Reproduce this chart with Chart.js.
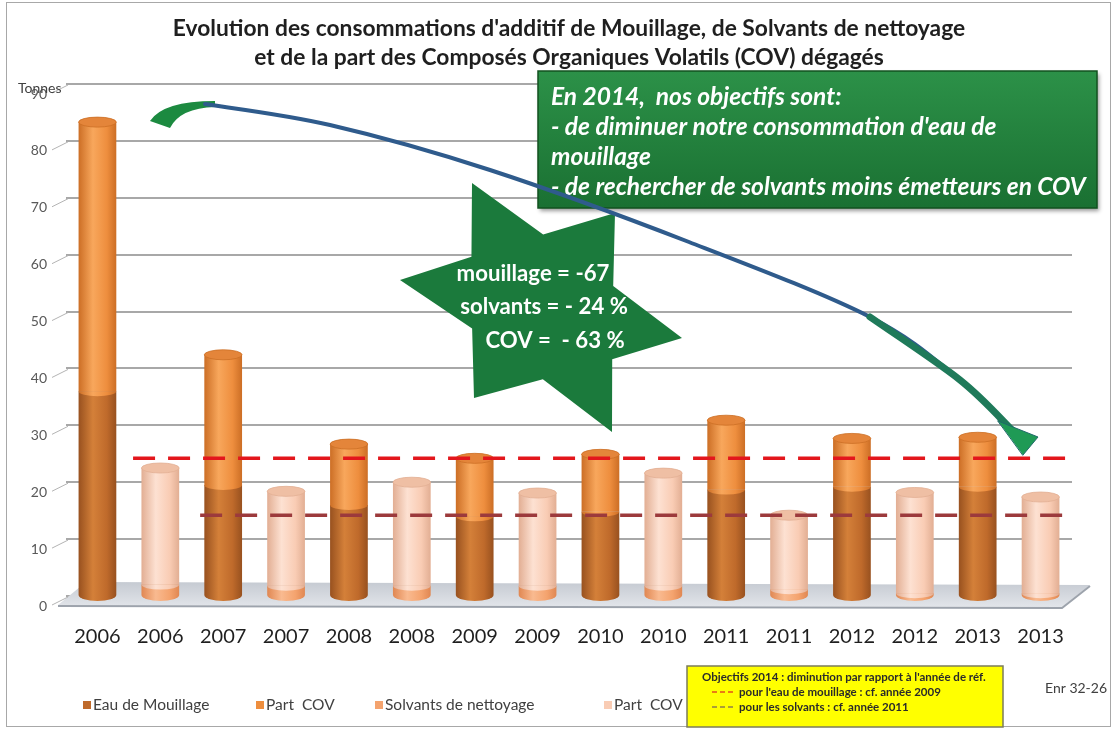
<!DOCTYPE html>
<html lang="fr">
<head>
<meta charset="utf-8">
<title>Evolution des consommations d'additif de Mouillage</title>
<script src="https://cdn.jsdelivr.net/npm/chart.js@4.4.1/dist/chart.umd.min.js"></script>
<style>
  html, body { margin: 0; padding: 0; background: #fff; }
  #wrap { position: relative; width: 1114px; height: 729px; }
</style>
</head>
<body>
<div id="wrap"><canvas id="chart"></canvas></div>
<script>
// Données (tonnes)
const annees = ['2006', '2006', '2007', '2007', '2008', '2008', '2009', '2009',
                '2010', '2010', '2011', '2011', '2012', '2012', '2013', '2013'];
const eauMouillage = [36, null, 19.5, null, 16, null, 14, null, 14.8, null, 18.7, null, 19.2, null, 19.2, null];
const covMouillage = [47.3, null, 22.9, null, 10.7, null, 10.2, null, 10.1, null, 12.2, null, 8.5, null, 8.7, null];
const solvants = [null, 2, null, 1.8, null, 1.8, null, 1.8, null, 1.8, null, 1.2, null, 0.5, null, 0.5];
const covSolvants = [null, 20.5, null, 16.6, null, 18.2, null, 16.3, null, 19.8, null, 13, null, 17.7, null, 16.9];
// lignes d'objectif : niveau 2009 (mouillage) et 2011 (solvants)
const objectifMouillage = [null, 24.2, 24.2, 24.2, 24.2, 24.2, 24.2, 24.2, 24.2, 24.2, 24.2, 24.2, 24.2, 24.2, 24.2, 24.2];
const objectifSolvants = [null, null, 14.2, 14.2, 14.2, 14.2, 14.2, 14.2, 14.2, 14.2, 14.2, 14.2, 14.2, 14.2, 14.2, 14.2];
const yMax = 90;
const yStep = 10;

const titre = ["Evolution des consommations d'additif de Mouillage, de Solvants de nettoyage",
               'et de la part des Composés Organiques Volatils (COV) dégagés'];
const objectifs = ['En 2014,  nos objectifs sont:',
                   "- de diminuer notre consommation d'eau de",
                   'mouillage',
                   '- de rechercher de solvants moins émetteurs en COV'];
const bilan = ['mouillage = -67', 'solvants = - 24 %', 'COV =  - 63 %'];
const encadre = ["Objectifs 2014 : diminution par rapport à l'année de réf.",
                 "pour l'eau de mouillage : cf. année 2009",
                 'pour les solvants : cf. année 2011'];

const FONT = 'Lato';
const BAR_PCT = 0.6;

const teintes = {
    eau:  { base: '#bf6a2b', edge: '#98511f', light: '#d48039', cap: '#c46e2d' },
    covM: { base: '#ee8e3e', edge: '#cc6e25', light: '#f8a75c', cap: '#e4853a' },
    solv: { base: '#f4a36e', edge: '#e08752', light: '#f9ba90', cap: '#f09a62' },
    covS: { base: '#f9ccb4', edge: '#e2ae93', light: '#fde1d2', cap: '#efbfa4' }
};

// taille de police pour qu'un texte tienne dans une largeur donnée
const mctx = document.createElement('canvas').getContext('2d');
function fitSize(text, width, style) {
    mctx.font = style + ' 100px ' + FONT;
    return Math.round(1000 * width / mctx.measureText(text).width) / 10;
}
const titleSize = fitSize(titre[0], 794, 'bold');
const boxSize = fitSize(objectifs[3], 534, 'italic bold');
const starSize = fitSize(bilan[1], 168, 'bold');
const legendSize = fitSize('Solvants de nettoyage', 149, 'normal');
const yellowSize = fitSize(encadre[0], 283, 'bold');

function cylGrad(c2d, cx, half, t) {
    const g = c2d.createLinearGradient(cx - half, 0, cx + half, 0);
    g.addColorStop(0, t.edge);
    g.addColorStop(0.38, t.light);
    g.addColorStop(0.75, t.base);
    g.addColorStop(1, t.edge);
    return g;
}

function cylindre(t) {
    return function (ctx) {
        const chart = ctx.chart;
        if (!chart.chartArea) return t.base;
        const x = chart.scales.x;
        const half = x.width / annees.length * BAR_PCT / 2;
        return cylGrad(chart.ctx, x.getPixelForValue(ctx.dataIndex), half, t);
    };
}

function smoothPath(c2d, pts) {
    c2d.moveTo(pts[0][0], pts[0][1]);
    for (let i = 0; i < pts.length - 1; i++) {
        const p0 = pts[i - 1] || pts[i], p1 = pts[i], p2 = pts[i + 1], p3 = pts[i + 2] || p2;
        c2d.bezierCurveTo(p1[0] + (p2[0] - p0[0]) / 6, p1[1] + (p2[1] - p0[1]) / 6,
                          p2[0] - (p3[0] - p1[0]) / 6, p2[1] - (p3[1] - p1[1]) / 6, p2[0], p2[1]);
    }
}

// habillage : cadre, sol 3D, sommets des cylindres, encadrés, étoile, flèche
const habillage = {
    id: 'habillage',
    beforeDraw(chart) {
        const c = chart.ctx;
        c.save();
        c.fillStyle = '#fff';
        c.fillRect(0, 0, chart.width, chart.height);
        c.strokeStyle = '#a8a8a8';
        c.lineWidth = 1;
        c.strokeRect(6.5, 2.5, 1104, 724);
        c.restore();
    },
    beforeDatasetsDraw(chart) {
        const c = chart.ctx, ca = chart.chartArea, y = chart.scales.y;
        c.save();
        // sol
        const g = c.createLinearGradient(0, ca.bottom - 16, 0, ca.bottom + 10);
        g.addColorStop(0, '#c3c8d0');
        g.addColorStop(1, '#e1e4e9');
        c.fillStyle = g;
        c.beginPath();
        c.moveTo(ca.left - 8, ca.bottom + 9);
        c.lineTo(ca.right - 10, ca.bottom + 11);
        c.lineTo(ca.right + 18, ca.bottom - 11);
        c.lineTo(ca.left + 20, ca.bottom - 14);
        c.closePath();
        c.fill();
        c.strokeStyle = '#9da3ac';
        c.lineWidth = 2;
        c.beginPath();
        c.moveTo(ca.left - 8, ca.bottom + 10);
        c.lineTo(ca.right - 10, ca.bottom + 12);
        c.lineTo(ca.right + 18, ca.bottom - 10);
        c.stroke();
        // petits traits de la paroi gauche
        c.strokeStyle = '#b4b4b4';
        c.lineWidth = 1;
        for (let v = 0; v <= yMax; v += yStep) {
            const gy = y.getPixelForValue(v);
            c.beginPath();
            c.moveTo(52, gy + 9);
            c.lineTo(ca.left + 2, gy + 1);
            c.stroke();
        }
        c.restore();
    },
    afterDatasetDraw(chart, args) {
        const c = chart.ctx, i = args.index;
        const ds = chart.data.datasets[i];
        if (ds.type === 'line') return;
        const meta = args.meta;
        c.save();
        meta.data.forEach((el, j) => {
            if (ds.data[j] == null) return;
            const half = el.width / 2;
            if (ds.haut) {
                // sommet du cylindre
                c.beginPath();
                c.ellipse(el.x, el.y, half, 5, 0, 0, Math.PI * 2);
                c.fillStyle = ds.teinte.cap;
                c.fill();
                c.strokeStyle = ds.teinte.edge;
                c.lineWidth = 0.8;
                c.stroke();
            } else {
                // base arrondie
                c.beginPath();
                c.ellipse(el.x, el.base, half, 6, 0, 0, Math.PI);
                c.fillStyle = cylGrad(c, el.x, half, ds.teinte);
                c.fill();
                // limite courbe avec le segment supérieur
                const top = chart.data.datasets[i + 1].teinte;
                c.beginPath();
                c.ellipse(el.x, el.y, half, 5, 0, 0, Math.PI);
                c.fillStyle = cylGrad(c, el.x, half, top);
                c.fill();
            }
        });
        c.restore();
    },
    afterDraw(chart) {
        const c = chart.ctx;
        c.save();
        c.textBaseline = 'middle';

        // "Tonnes"
        c.fillStyle = '#404040';
        c.font = '14px ' + FONT;
        c.fillText('Tonnes', 18, 88);

        // légende
        const legX = [83, 256, 375, 604];
        c.font = legendSize + 'px ' + FONT;
        chart.data.datasets.filter(d => d.type !== 'line').forEach((d, k) => {
            c.fillStyle = d.teinte.base;
            c.fillRect(legX[k], 701, 8, 8);
            c.fillStyle = '#404040';
            c.fillText(d.label, legX[k] + 10, 705);
        });

        // encadré jaune
        c.fillStyle = '#ffff00';
        c.fillRect(687, 666, 316, 61);
        c.strokeStyle = '#7c7c5a';
        c.lineWidth = 1.5;
        c.strokeRect(687, 666, 316, 61);
        c.fillStyle = '#2a2a2a';
        c.font = 'bold ' + yellowSize + 'px ' + FONT;
        c.fillText(encadre[0], 702, 677);
        c.fillText(encadre[1], 739, 692);
        c.fillText(encadre[2], 739, 707);
        c.lineWidth = 1.5;
        c.setLineDash([5, 3]);
        c.strokeStyle = '#e2511b';
        c.beginPath(); c.moveTo(712, 692); c.lineTo(735, 692); c.stroke();
        c.strokeStyle = '#8f7f4a';
        c.beginPath(); c.moveTo(712, 707); c.lineTo(735, 707); c.stroke();
        c.setLineDash([]);

        c.fillStyle = '#404040';
        c.font = '14px ' + FONT;
        c.fillText('Enr 32-26', 1045, 688);

        // encadré vert
        c.save();
        c.shadowColor = 'rgba(0,0,0,0.4)';
        c.shadowBlur = 4;
        c.shadowOffsetX = 2;
        c.shadowOffsetY = 3;
        const gv = c.createLinearGradient(0, 71, 0, 208);
        gv.addColorStop(0, '#2c9148');
        gv.addColorStop(1, '#1a7032');
        c.fillStyle = gv;
        c.fillRect(538, 71, 559, 137);
        c.restore();
        c.strokeStyle = '#12521f';
        c.lineWidth = 1.5;
        c.strokeRect(538, 71, 559, 137);
        c.fillStyle = '#ffffff';
        c.font = 'italic bold ' + boxSize + 'px ' + FONT;
        [97, 127, 157, 187].forEach((ty, k) => c.fillText(objectifs[k], 551, ty));

        // étoile à six branches
        const pts = [[472, 183], [615, 213], [682, 338], [612, 432], [474, 398], [400, 280]];
        const cx = pts.reduce((s, p) => s + p[0], 0) / 6;
        const cy = pts.reduce((s, p) => s + p[1], 0) / 6;
        c.beginPath();
        pts.forEach((p, k) => {
            const q = pts[(k + 1) % 6];
            const ix = cx + 0.667 * ((p[0] + q[0]) / 2 - cx);
            const iy = cy + 0.667 * ((p[1] + q[1]) / 2 - cy);
            if (k === 0) c.moveTo(p[0], p[1]); else c.lineTo(p[0], p[1]);
            c.lineTo(ix, iy);
        });
        c.closePath();
        c.fillStyle = '#1b7a3c';
        c.fill();
        c.fillStyle = '#ffffff';
        c.textAlign = 'center';
        c.font = 'bold ' + starSize + 'px ' + FONT;
        c.fillText(bilan[0], 533, 274);
        c.fillText(bilan[1], 544, 307);
        c.fillText(bilan[2], 555, 341);
        c.textAlign = 'left';

        // flèche courbe
        c.fillStyle = '#1c8a40';
        c.beginPath();
        c.moveTo(150, 121);
        c.quadraticCurveTo(163, 101, 215, 101);
        c.lineTo(215, 107);
        c.quadraticCurveTo(180, 108, 170, 128);
        c.closePath();
        c.fill();
        const chemin = [[205, 104], [330, 125], [490, 170], [689, 242], [870, 317], [960, 380], [1012, 430]];
        c.strokeStyle = '#2f5b8c';
        c.lineWidth = 4;
        c.lineCap = 'round';
        c.beginPath();
        smoothPath(c, chemin);
        c.stroke();
        c.strokeStyle = '#1f7a5a';
        c.lineWidth = 7;
        c.beginPath();
        smoothPath(c, chemin.slice(4));
        c.stroke();
        c.fillStyle = '#1f9a55';
        c.strokeStyle = '#1f6a6a';
        c.lineWidth = 1;
        c.beginPath();
        c.moveTo(998, 421);
        c.lineTo(1038, 437);
        c.lineTo(1023, 455);
        c.closePath();
        c.fill();
        c.stroke();

        c.restore();
    }
};

const barre = (label, data, t, haut) => ({
    type: 'bar', label, data, teinte: t, haut,
    stack: 'conso',
    grouped: false,
    backgroundColor: cylindre(t),
    borderWidth: 0,
    barPercentage: BAR_PCT,
    categoryPercentage: 1
});

const ligne = (label, data, color, stack) => ({
    type: 'line', label, data, stack,
    xAxisID: 'x2',
    order: -1,
    borderColor: color,
    borderWidth: 3.5,
    borderDash: [22, 13],
    pointRadius: 0,
    fill: false
});

new Chart(document.getElementById('chart'), {
    data: {
        labels: annees,
        datasets: [
            barre('Eau de Mouillage', eauMouillage, teintes.eau, false),
            barre('Part  COV', covMouillage, teintes.covM, true),
            barre('Solvants de nettoyage', solvants, teintes.solv, false),
            barre('Part  COV', covSolvants, teintes.covS, true),
            ligne('Objectif mouillage', objectifMouillage, '#e3161c', 'obj1'),
            ligne('Objectif solvants', objectifSolvants, '#9c3a3c', 'obj2')
        ]
    },
    options: {
        responsive: true,
        maintainAspectRatio: false,
        animation: false,
        layout: { padding: { left: 22, right: 42, top: 0, bottom: 69 } },
        plugins: {
            legend: { display: false },
            tooltip: { enabled: false },
            title: {
                display: true,
                fullSize: false, // centré sur la zone du graphique
                text: titre,
                color: '#1f1f1f',
                font: { family: FONT, size: titleSize, weight: 'bold', lineHeight: 29 / titleSize },
                padding: { top: 14, bottom: 12 }
            }
        },
        scales: {
            x: {
                stacked: true,
                offset: true,
                grid: { display: false, drawTicks: false },
                border: { display: false },
                ticks: { padding: 29, color: '#1f1f1f', font: { family: FONT, size: 20 } },
                afterFit(s) { s.height = 64; }
            },
            x2: {
                type: 'category',
                offset: false,
                display: false
            },
            y: {
                stacked: true,
                min: 0,
                max: yMax,
                ticks: {
                    stepSize: yStep, padding: 19, labelOffset: 10,
                    color: '#595959', font: { family: FONT, size: 14 }
                },
                grid: { color: '#a8a8a8', lineWidth: 2, drawTicks: false },
                border: { display: false },
                afterFit(s) { s.width = 44; }
            }
        }
    },
    plugins: [habillage]
});
</script>
</body>
</html>
